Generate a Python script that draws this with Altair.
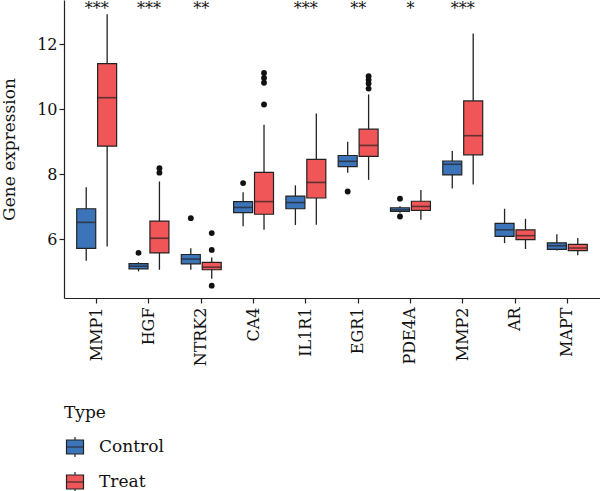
import altair as alt
import pandas as pd

genes = ["MMP1", "HGF", "NTRK2", "CA4", "IL1R1", "EGR1", "PDE4A", "MMP2", "AR", "MAPT"]
groups = ["Control", "Treat"]

# Box statistics per gene: lower whisker, Q1, median, Q3, upper whisker
ctrl_low = [5.34, 5.01, 5.06, 6.40, 6.44, 8.05, 6.82, 7.56, 5.88, 5.65]
ctrl_q1 = [5.72, 5.09, 5.24, 6.82, 6.94, 8.24, 6.86, 7.98, 6.09, 5.69]
ctrl_med = [6.52, 5.17, 5.39, 6.98, 7.13, 8.40, 6.91, 8.31, 6.29, 5.80]
ctrl_q3 = [6.94, 5.25, 5.53, 7.16, 7.33, 8.58, 6.97, 8.41, 6.49, 5.89]
ctrl_high = [7.60, 5.29, 5.72, 7.45, 7.66, 9.00, 7.02, 8.72, 6.94, 6.15]

treat_low = [5.78, 5.06, 4.78, 6.29, 6.45, 7.83, 6.60, 7.69, 5.70, 5.51]
treat_q1 = [8.87, 5.58, 5.06, 6.77, 7.27, 8.55, 6.89, 8.60, 5.99, 5.65]
treat_med = [10.36, 6.03, 5.14, 7.16, 7.75, 8.89, 7.01, 9.19, 6.11, 5.73]
treat_q3 = [11.41, 6.56, 5.29, 8.06, 8.46, 9.39, 7.17, 10.26, 6.29, 5.84]
treat_high = [12.93, 7.78, 5.44, 9.53, 9.87, 10.46, 7.52, 12.34, 6.63, 6.04]

# Outlying samples
out_gene = ["HGF", "NTRK2", "CA4", "EGR1", "PDE4A", "PDE4A",
            "HGF", "HGF", "NTRK2", "NTRK2", "NTRK2",
            "CA4", "CA4", "CA4", "CA4",
            "EGR1", "EGR1", "EGR1", "EGR1"]
out_type = ["Control"] * 6 + ["Treat"] * 13
out_value = [5.58, 6.65, 7.73, 7.47, 7.25, 6.70,
             8.19, 8.05, 6.19, 5.67, 4.57,
             11.12, 10.97, 10.82, 10.15,
             11.02, 10.91, 10.80, 10.64]

# Significance of Control vs Treat
sig_labels = ["***", "***", "**", "", "***", "**", "*", "***", "", ""]

colors = ["#3C74BA", "#F05657"]
dark = "#222222"
serif = "DejaVu Serif"

rows = []
for t, stats in zip(groups, [
    (ctrl_low, ctrl_q1, ctrl_med, ctrl_q3, ctrl_high),
    (treat_low, treat_q1, treat_med, treat_q3, treat_high),
]):
    for i, g in enumerate(genes):
        rows.append({"Gene": g, "Type": t, "low": stats[0][i], "q1": stats[1][i],
                     "med": stats[2][i], "q3": stats[3][i], "high": stats[4][i]})
box_df = pd.DataFrame(rows)
out_df = pd.DataFrame({"Gene": out_gene, "Type": out_type, "value": out_value})
sig_df = pd.DataFrame({"Gene": genes, "label": sig_labels})

x_enc = alt.X(
    "Gene:N", sort=genes,
    scale=alt.Scale(domain=genes, paddingInner=0.2, paddingOuter=0.225),
    axis=alt.Axis(title=None, labelAngle=-90, labelPadding=4),
)
xo_enc = alt.XOffset("Type:N", scale=alt.Scale(domain=groups, paddingInner=0, paddingOuter=0))
y_scale = alt.Scale(domain=[4.19, 13.37], nice=False, zero=False)

whiskers = alt.Chart(box_df).mark_rule(color=dark, strokeWidth=1.3).encode(
    x=x_enc, xOffset=xo_enc,
    y=alt.Y("low:Q", scale=y_scale,
            axis=alt.Axis(title="Gene expression", values=[6, 8, 10, 12], titlePadding=18)),
    y2="high:Q",
)

box_symbol = "M-0.85,-0.7H0.85V0.7H-0.85Z M-0.85,0H0.85 M0,-0.7V-1 M0,0.7V1"

boxes = alt.Chart(box_df).mark_bar(size=19, stroke=dark, strokeWidth=1.2).encode(
    x=x_enc, xOffset=xo_enc,
    y=alt.Y("q1:Q", scale=y_scale), y2="q3:Q",
    fill=alt.Fill("Type:N", scale=alt.Scale(domain=groups, range=colors),
                  legend=alt.Legend(title="Type", orient="none", legendX=0, legendY=405,
                                    symbolType=box_symbol, symbolSize=400,
                                    symbolStrokeColor=dark, symbolStrokeWidth=1.2,
                                    labelOffset=13, rowPadding=9, titlePadding=14)),
)

medians = alt.Chart(box_df).mark_tick(color=dark, size=19, thickness=1.6, orient="horizontal").encode(
    x=x_enc, xOffset=xo_enc, y=alt.Y("med:Q", scale=y_scale),
)

outliers = alt.Chart(out_df).mark_circle(size=34, color="#111111", opacity=1).encode(
    x=x_enc, xOffset=xo_enc, y=alt.Y("value:Q", scale=y_scale),
)

stars = alt.Chart(sig_df).mark_text(font=serif, fontSize=16, color="#111111", baseline="alphabetic").encode(
    x=x_enc, y=alt.YDatum(12.93, scale=y_scale), text="label:N",
)

chart = alt.layer(whiskers, boxes, medians, outliers, stars).properties(
    width=536, height=298,
    autosize=alt.AutoSizeParams(type="none"),
    padding={"left": 64, "top": 0, "right": 0, "bottom": 193},
).configure_view(stroke=None).configure_axis(
    labelFont=serif, labelFontSize=16, labelColor="#111111",
    titleFont=serif, titleFontSize=17, titleFontWeight="normal", titleColor="#111111",
    domainColor=dark, domainWidth=1.2, tickColor=dark, tickWidth=1.2, tickSize=5, grid=False,
).configure_legend(
    titleFont=serif, titleFontSize=17, titleFontWeight="normal", titleColor="#111111",
    labelFont=serif, labelFontSize=17, labelColor="#111111", padding=0,
)

chart.save("out.html", embed_options={"renderer": "svg", "actions": False})
